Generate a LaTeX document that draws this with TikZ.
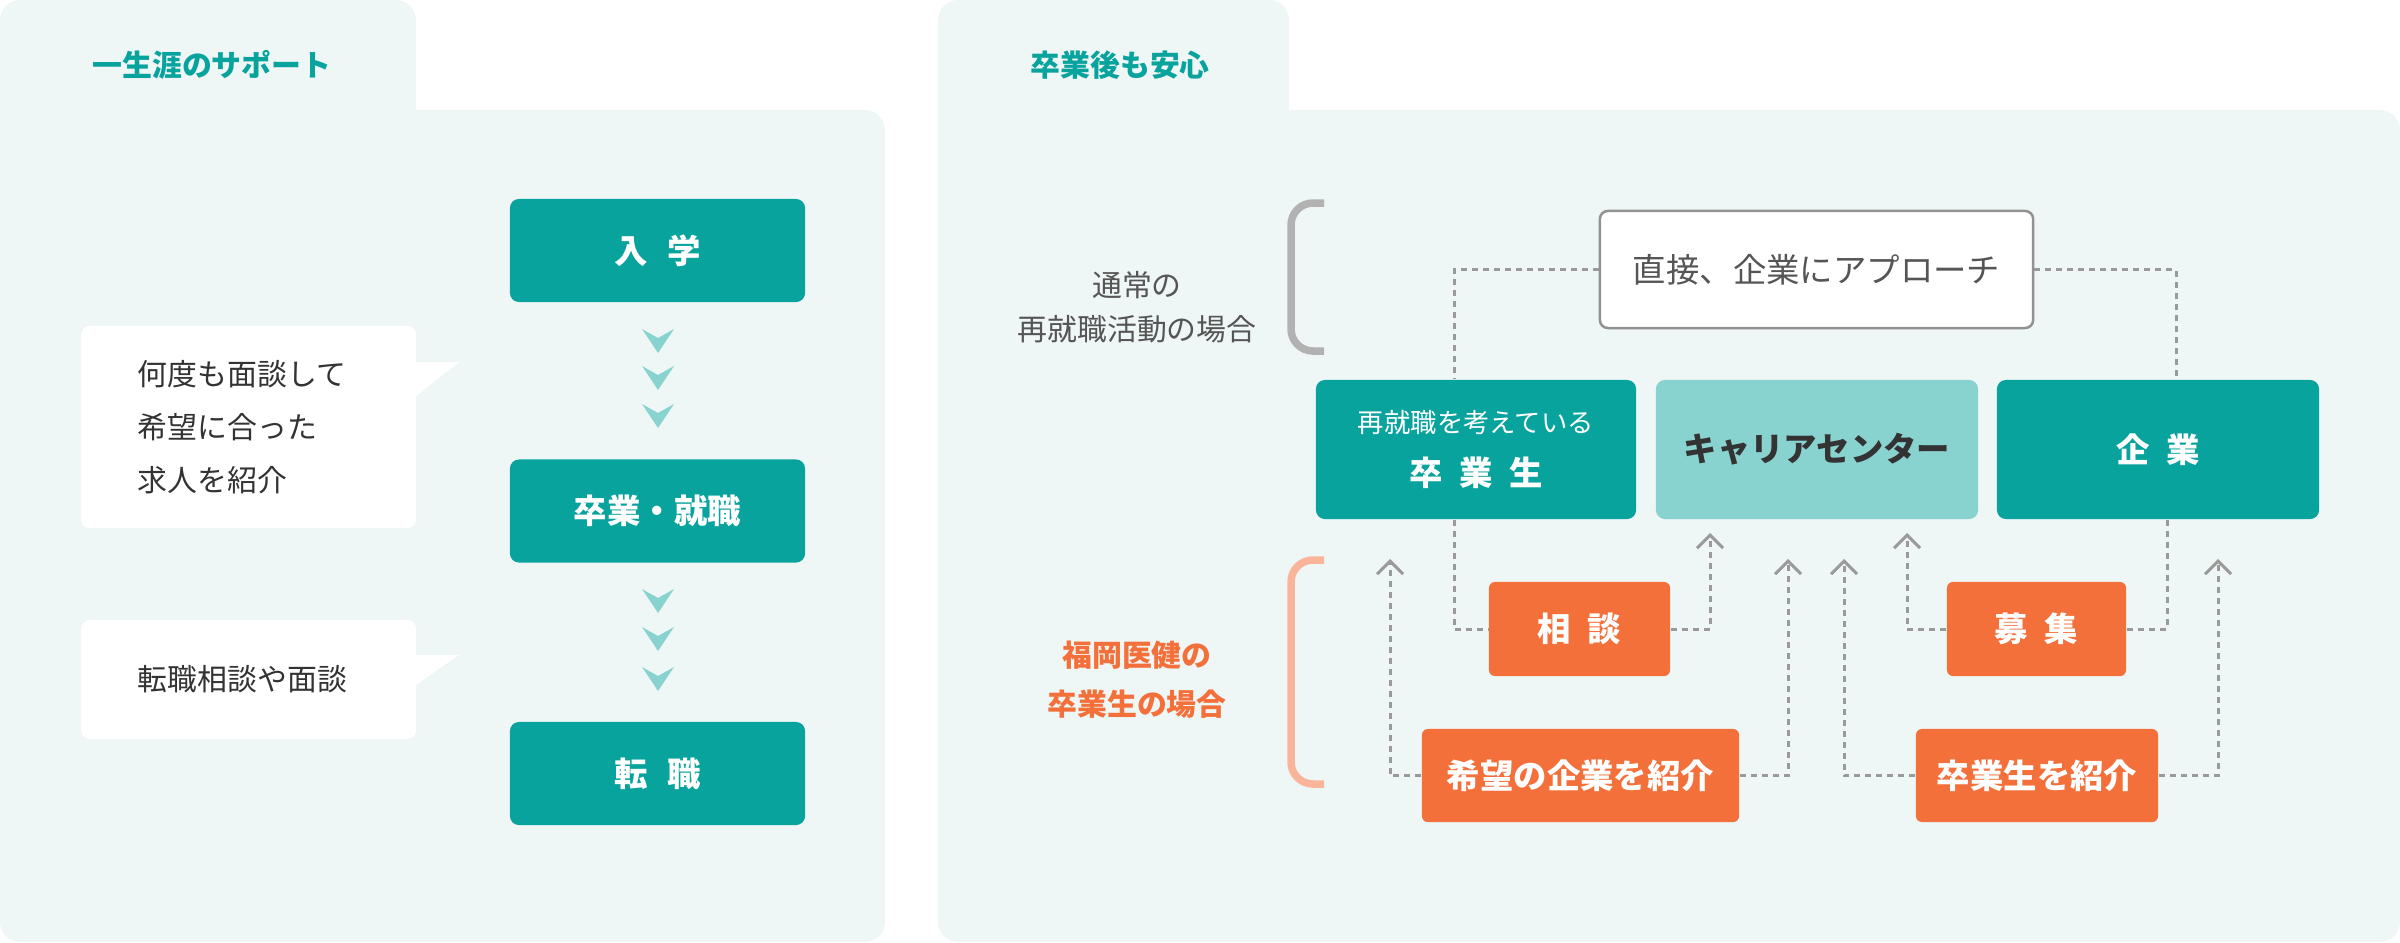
\documentclass[tikz,border=0pt]{standalone}
\usepackage{fontspec}
\setmainfont{Noto Sans CJK JP}
\usetikzlibrary{arrows.meta}
\definecolor{panelbg}{HTML}{EEF7F6}
\definecolor{teal}{HTML}{09A39E}
\definecolor{lightteal}{HTML}{88D2D0}
\definecolor{orange}{HTML}{F4703A}
\definecolor{peach}{HTML}{F9B49A}
\definecolor{darktext}{HTML}{333333}
\definecolor{graytext}{HTML}{555555}
\definecolor{dashgray}{HTML}{9A9A9A}
\tikzset{
  panel/.style={fill=panelbg, rounded corners=2mm},
  tealbox/.style={fill=teal, text=white, rounded corners=0.9mm, font=\fontsize{9.5}{12}\selectfont\bfseries},
  centerbox/.style={fill=lightteal, text=darktext, rounded corners=0.9mm, font=\fontsize{9.5}{12}\selectfont\bfseries},
  orangebox/.style={fill=orange, text=white, rounded corners=0.6mm, font=\fontsize{9.5}{12}\selectfont\bfseries},
  bubble/.style={fill=white, rounded corners=0.9mm, text=darktext, align=left, inner xsep=5.7mm, font=\fontsize{8.5}{15}\selectfont},
  title/.style={text=teal, anchor=west, font=\fontsize{8.5}{10}\selectfont\bfseries},
  dashline/.style={draw=dashgray, line width=0.3mm, dash pattern=on 0.6mm off 0.5mm},
  dasharrow/.style={dashline, -{Straight Barb[length=1.3mm,width=2.6mm,line width=0.3mm]}}
}
\begin{document}
\begin{tikzpicture}[x=0.01cm, y=-0.01cm]
\useasboundingbox (0,0) rectangle (2400,942);

% Panels
\fill[panel] (0,0) rectangle (416,220);
\fill[panel] (0,110) rectangle (885,942);
\fill[panel] (938,0) rectangle (1289,220);
\fill[panel] (938,110) rectangle (2400,942);

% Left panel
\node[title] (lifetitle) at (80,65) {一生涯のサポート};

\node[tealbox, minimum width=29.5mm, minimum height=10.3mm] (intake) at (657.5,250.5) {入\hspace{0.6em}学};
\node[tealbox, minimum width=29.5mm, minimum height=10.3mm] (grad) at (657.5,511) {卒業・就職};
\node[tealbox, minimum width=29.5mm, minimum height=10.3mm] (change) at (657.5,773.5) {転\hspace{0.6em}職};

\foreach \y in {340,377,415,600,638,678}
  \fill[lightteal] (642,\y-11) -- (658,\y-2) -- (674,\y-11) -- (658,\y+13) -- cycle;

\fill[white] (410,362) -- (459,362) -- (410,401) -- cycle;
\node[bubble, minimum width=33.5mm, minimum height=20.2mm, text width=22.1mm] (advice) at (248.5,427) {何度も面談して\\希望に合った\\求人を紹介};
\fill[white] (410,655) -- (459,655) -- (410,689) -- cycle;
\node[bubble, minimum width=33.5mm, minimum height=11.9mm, text width=22.1mm] (consultjob) at (248.5,679.5) {転職相談や面談};

% Right panel
\node[title] (aftertitle) at (1018,65) {卒業後も安心};

\draw[draw=lightgray!80!gray, line width=0.75mm, rounded corners=2.2mm] (1324,203) -- (1291,203) -- (1291,351) -- (1324,351);
\draw[draw=peach, line width=0.75mm, rounded corners=2.2mm] (1324,560) -- (1291,560) -- (1291,784) -- (1324,784);
\node[text=graytext, align=center, font=\fontsize{8.5}{12.5}\selectfont] (usual) at (1137,307) {通常の\\再就職活動の場合};
\node[text=orange, align=center, font=\fontsize{8.5}{14}\selectfont\bfseries] (alumni) at (1137,680) {福岡医健の\\卒業生の場合};

\node[draw=dashgray!70!gray, line width=0.25mm, fill=white, rounded corners=0.8mm, text=graytext,
  minimum width=43.3mm, minimum height=11.7mm, font=\fontsize{9.5}{12}\selectfont] (approach) at (1816.5,269.5) {直接、企業にアプローチ};

\node[tealbox, minimum width=32mm, minimum height=13.9mm, align=center] (student) at (1476,449.5)
  {{\fontsize{7.5}{10}\selectfont\mdseries 再就職を考えている}\\[1mm]卒\hspace{0.5em}業\hspace{0.5em}生};
\node[centerbox, minimum width=32.2mm, minimum height=13.9mm] (center) at (1817,449.5) {キャリアセンター};
\node[tealbox, minimum width=32.2mm, minimum height=13.9mm] (company) at (2158,449.5) {企\hspace{0.5em}業};

\node[orangebox, minimum width=18.1mm, minimum height=9.4mm] (consult) at (1579.5,629) {相\hspace{0.5em}談};
\node[orangebox, minimum width=17.9mm, minimum height=9.4mm] (recruit) at (2036.5,629) {募\hspace{0.5em}集};
\node[orangebox, minimum width=31.7mm, minimum height=9.3mm] (introjob) at (1580.5,775.5) {希望の企業を紹介};
\node[orangebox, minimum width=24.2mm, minimum height=9.3mm] (intrograd) at (2037,775.5) {卒業生を紹介};

\coordinate (a1) at (1710,533);
\coordinate (a2) at (1907,533);
\coordinate (a3) at (1390,559);
\coordinate (a4) at (1788,559);
\coordinate (a5) at (1844,559);
\coordinate (a6) at (2218,559);

% Connectors
\draw[dashline] (approach.west) -| ([xshift=-2.2mm]student.north);
\draw[dashline] (approach.east) -| ([xshift=1.8mm]company.north);
\draw[dashline] ([xshift=-2.2mm]student.south) |- (consult.west);
\draw[dashline] ([xshift=0.9mm]company.south) |- (recruit.east);
\draw[dasharrow] (consult.east) -| (a1);
\draw[dasharrow] (recruit.west) -| (a2);
\draw[dasharrow] (introjob.west) -| (a3);
\draw[dasharrow] (introjob.east) -| (a4);
\draw[dasharrow] (intrograd.west) -| (a5);
\draw[dasharrow] (intrograd.east) -| (a6);
\end{tikzpicture}
\end{document}
